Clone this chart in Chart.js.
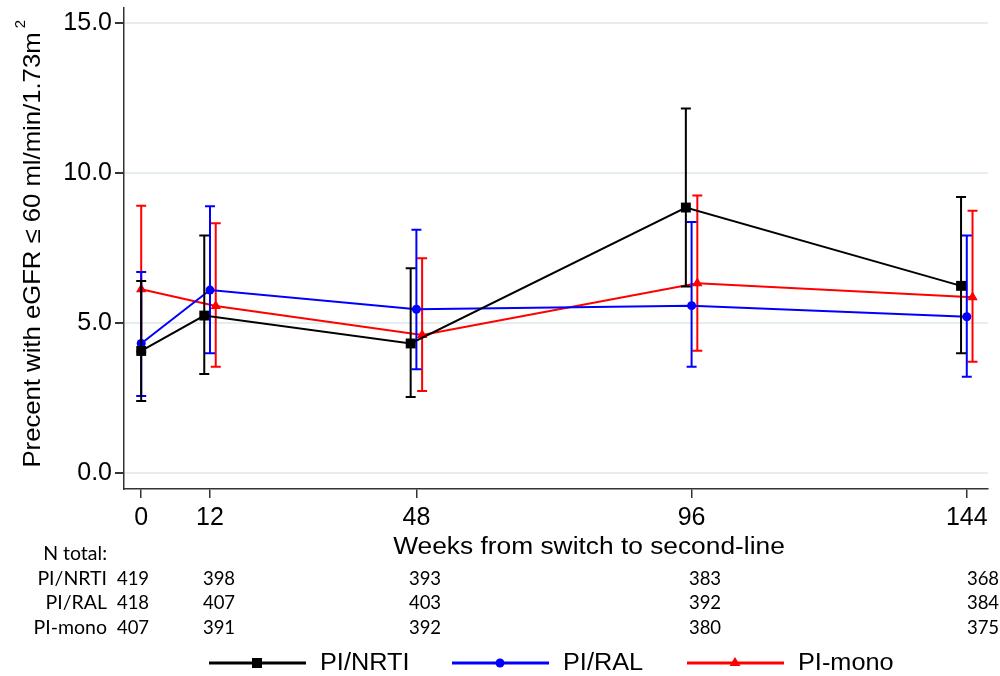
<!DOCTYPE html>
<html>
<head>
<meta charset="utf-8">
<script src="https://cdn.jsdelivr.net/npm/chart.js@4/dist/chart.umd.min.js"></script>
<style>
html,body{margin:0;padding:0;background:#fff;}
#wrap{width:1000px;height:676px;position:relative;}
</style>
</head>
<body>
<div id="wrap"><canvas id="c" width="1000" height="676"></canvas></div>
<script>
// ---- data ----
const weeks = [0, 12, 48, 96, 144];
const seriesNames = ['PI/NRTI', 'PI/RAL', 'PI-mono'];
// plotted week positions (slightly dodged in the original)
const xNRTI = [0, 11, 47, 95, 143];
const xRAL  = [0, 12, 48, 96, 144];
const xMono = [0, 13, 49, 97, 145];
// percent estimates and 95% CI
const estNRTI = [4.07, 5.25, 4.32, 8.85, 6.24];
const loNRTI  = [2.40, 3.30, 2.54, 6.22, 3.99];
const hiNRTI  = [6.40, 7.92, 6.83, 12.15, 9.20];
const estRAL  = [4.32, 6.10, 5.46, 5.58, 5.21];
const loRAL   = [2.57, 3.99, 3.46, 3.54, 3.21];
const hiRAL   = [6.70, 8.89, 8.11, 8.37, 7.92];
const estMono = [6.13, 5.57, 4.60, 6.33, 5.86];
const loMono  = [4.04, 3.54, 2.74, 4.08, 3.71];
const hiMono  = [8.91, 8.33, 7.16, 9.25, 8.74];
// numbers at risk
const nNRTI = [419, 398, 393, 383, 368];
const nRAL  = [418, 407, 403, 392, 384];
const nMono = [407, 391, 392, 380, 375];
const yTicks = [0, 5, 10, 15];
const xTitle = 'Weeks from switch to second-line';
const yTitle = 'Precent with eGFR \u2264 60 ml/min/1.73m';
const ySup = '2';
const tableHeader = 'N total:';

// ---- styles ----
const colors = ['#000000', '#0000ff', '#ff0000'];
const pStyles = ['rect', 'circle', 'triangle'];
const pRadius = [7, 4.5, 6];
const FONT = '"Liberation Sans", Arial, sans-serif';
const TFONT = 'Lato, "Liberation Sans Narrow", sans-serif';

function mk(xs, ys) { return xs.map((x, i) => ({x: x, y: ys[i]})); }
const lows = [loNRTI, loRAL, loMono];
const highs = [hiNRTI, hiRAL, hiMono];
const xsAll = [xNRTI, xRAL, xMono];
const nAll = [nNRTI, nRAL, nMono];

function sText(ctx, txt, x, y, font, sx, align, base) {
  ctx.save();
  ctx.font = font;
  ctx.translate(x, y);
  ctx.scale(sx, 1);
  ctx.textAlign = align || 'left';
  ctx.textBaseline = base || 'middle';
  ctx.fillStyle = '#000';
  ctx.fillText(txt, 0, 0);
  ctx.restore();
}

const errPlugin = {
  id: 'errbars',
  afterDatasetDraw(chart, args) {
    const i = args.index;
    const ctx = chart.ctx, xs = chart.scales.x, ys = chart.scales.y;
    ctx.save();
    ctx.strokeStyle = colors[i];
    ctx.lineWidth = 2;
    xsAll[i].forEach((xv, k) => {
      const px = xs.getPixelForValue(xv);
      const y1 = ys.getPixelForValue(lows[i][k]);
      const y2 = ys.getPixelForValue(highs[i][k]);
      ctx.beginPath();
      ctx.moveTo(px, y1); ctx.lineTo(px, y2);
      ctx.moveTo(px - 5, y1); ctx.lineTo(px + 5, y1);
      ctx.moveTo(px - 5, y2); ctx.lineTo(px + 5, y2);
      ctx.stroke();
    });
    ctx.restore();
  }
};

const decoPlugin = {
  id: 'deco',
  afterDraw(chart) {
    const ctx = chart.ctx;
    // y-axis title
    ctx.save();
    ctx.translate(33, 250);
    ctx.rotate(-Math.PI / 2);
    ctx.scale(1.07, 1);
    ctx.font = '24px ' + FONT;
    ctx.textAlign = 'center';
    ctx.textBaseline = 'middle';
    ctx.fillStyle = '#000';
    ctx.fillText(yTitle, 0, 0);
    ctx.restore();
    ctx.save();
    ctx.translate(21, 24);
    ctx.rotate(-Math.PI / 2);
    ctx.font = '15px ' + FONT;
    ctx.textAlign = 'center';
    ctx.textBaseline = 'middle';
    ctx.fillStyle = '#000';
    ctx.fillText(ySup, 0, 0);
    ctx.restore();
    // x-axis title
    sText(ctx, xTitle, 589, 548, '23.5px ' + FONT, 1.12, 'center');
    // N table
    const colX = [133, 219, 425, 705, 983];
    const rowY = [579, 603, 628];
    const tf = '19.5px ' + TFONT;
    sText(ctx, tableHeader, 107, 554, tf, 1, 'right');
    seriesNames.forEach((nm, r) => {
      sText(ctx, nm, 107, rowY[r], tf, 1, 'right');
      nAll[r].forEach((n, c) => sText(ctx, String(n), colX[c], rowY[r], tf, 0.95, 'center'));
    });
    // legend
    const legX = [209, 452, 687];
    const ly = 663;
    seriesNames.forEach((nm, i) => {
      const x0 = legX[i];
      ctx.save();
      ctx.strokeStyle = colors[i];
      ctx.fillStyle = colors[i];
      ctx.lineWidth = 3;
      ctx.beginPath(); ctx.moveTo(x0, ly); ctx.lineTo(x0 + 97, ly); ctx.stroke();
      const cx = x0 + 48;
      ctx.beginPath();
      if (i === 0) { ctx.rect(cx - 5, ly - 5, 10, 10); }
      else if (i === 1) { ctx.arc(cx, ly, 4.5, 0, Math.PI * 2); }
      else { ctx.moveTo(cx, ly - 6); ctx.lineTo(cx + 5.5, ly + 3); ctx.lineTo(cx - 5.5, ly + 3); ctx.closePath(); }
      ctx.fill();
      ctx.restore();
      sText(ctx, nm, x0 + 111, ly + 1, '23px ' + FONT, 1.1, 'left');
    });
  }
};

const datasets = [
  {label: seriesNames[0], data: mk(xNRTI, estNRTI)},
  {label: seriesNames[1], data: mk(xRAL, estRAL)},
  {label: seriesNames[2], data: mk(xMono, estMono)}
].map((d, i) => Object.assign(d, {
  borderColor: colors[i], backgroundColor: colors[i],
  pointBackgroundColor: colors[i], pointBorderColor: colors[i],
  pointStyle: pStyles[i], pointRadius: pRadius[i], pointBorderWidth: 0,
  borderWidth: 2, showLine: true, tension: 0, clip: false
}));

new Chart(document.getElementById('c'), {
  type: 'line',
  data: {datasets: datasets},
  options: {
    responsive: false,
    animation: false,
    devicePixelRatio: 1,
    layout: {padding: {top: 8, right: 12, left: 0, bottom: 0}},
    plugins: {legend: {display: false}, tooltip: {enabled: false}},
    scales: {
      x: {
        type: 'linear', min: -3, max: 147.7,
        afterBuildTicks: s => { s.ticks = weeks.map(v => ({value: v})); },
        afterFit: s => { s.height = 187; s.paddingLeft = 0; s.paddingRight = 0; },
        grid: {drawOnChartArea: false, tickLength: 9, tickColor: '#333', lineWidth: 1.5},
        border: {color: '#333', width: 1.5},
        ticks: {font: {family: FONT, size: 25}, color: '#000', padding: 5, maxRotation: 0, autoSkip: false,
                callback: v => String(v)}
      },
      y: {
        type: 'linear', min: -0.53, max: 15.5,
        afterBuildTicks: s => { s.ticks = yTicks.map(v => ({value: v})); },
        afterFit: s => { s.width = 124; s.paddingTop = 0; s.paddingBottom = 0; },
        grid: {color: '#e6edf1', lineWidth: 2, tickLength: 9, tickColor: '#333'},
        border: {color: '#333', width: 1.5},
        ticks: {font: {family: FONT, size: 25}, color: '#000', padding: 3, callback: v => Number(v).toFixed(1)}
      }
    }
  },
  plugins: [errPlugin, decoPlugin]
});
</script>
</body>
</html>
